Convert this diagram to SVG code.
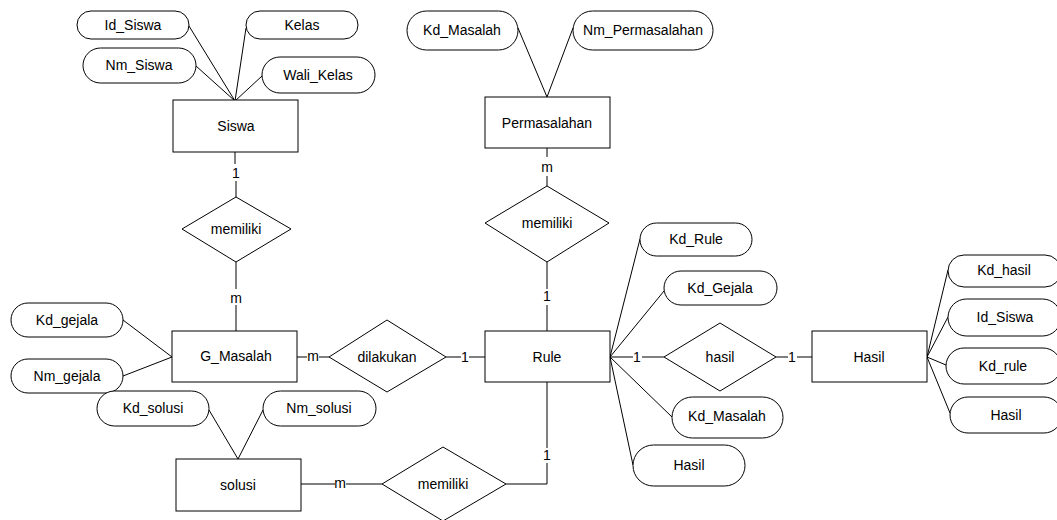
<svg xmlns="http://www.w3.org/2000/svg" width="1057" height="520" viewBox="0 0 1057 520">
<style>
rect,polygon{fill:#fff;stroke:#000;stroke-width:1}
.c line,.c polyline{stroke:#000;stroke-width:1;fill:none}
text{font-family:"Liberation Sans",Arial,sans-serif;font-size:14px;fill:#000;text-anchor:middle}
</style>
<rect x="0" y="0" width="1057" height="520" style="stroke:none"/>
<g class="c" id="connectors">
<line x1="189" y1="26" x2="235" y2="101"/>
<line x1="246" y1="28" x2="235" y2="101"/>
<line x1="196" y1="66" x2="235" y2="101"/>
<line x1="262" y1="76" x2="235" y2="101"/>
<line x1="235" y1="152" x2="235" y2="164"/>
<line x1="236" y1="181" x2="236" y2="197"/>
<line x1="236" y1="262" x2="236" y2="289"/>
<line x1="236" y1="305" x2="236" y2="331"/>
<line x1="123" y1="320" x2="172" y2="357"/>
<line x1="123" y1="376" x2="172" y2="357"/>
<line x1="209" y1="410" x2="238" y2="459"/>
<line x1="263" y1="410" x2="238" y2="459"/>
<line x1="518" y1="28" x2="547" y2="97"/>
<line x1="573" y1="28" x2="547" y2="97"/>
<line x1="547" y1="148" x2="547" y2="157"/>
<line x1="547" y1="176" x2="547" y2="186"/>
<line x1="547" y1="262" x2="547" y2="289"/>
<line x1="547" y1="305" x2="547" y2="331"/>
<line x1="297" y1="357" x2="307" y2="357"/>
<line x1="319" y1="357" x2="329" y2="357"/>
<line x1="446" y1="357" x2="461" y2="357"/>
<line x1="469" y1="357" x2="485" y2="357"/>
<line x1="301" y1="484" x2="335" y2="484"/>
<line x1="346" y1="484" x2="382" y2="484"/>
<line x1="547" y1="382" x2="547" y2="448"/>
<polyline points="547,463 547,484 506,484"/>
<line x1="610" y1="357" x2="633" y2="357"/>
<line x1="642" y1="357" x2="664" y2="357"/>
<line x1="776" y1="357" x2="788" y2="357"/>
<line x1="797" y1="357" x2="812" y2="357"/>
<line x1="610" y1="357" x2="640" y2="239"/>
<line x1="610" y1="357" x2="664" y2="291"/>
<line x1="610" y1="357" x2="672" y2="417"/>
<line x1="610" y1="357" x2="633" y2="465"/>
<line x1="927" y1="357" x2="948" y2="270"/>
<line x1="927" y1="357" x2="948" y2="317"/>
<line x1="927" y1="357" x2="946" y2="365"/>
<line x1="927" y1="357" x2="950" y2="413"/>
<text x="236" y="178">1</text>
<text x="236" y="303">m</text>
<text x="547" y="172">m</text>
<text x="547" y="301">1</text>
<text x="313" y="361">m</text>
<text x="465" y="362">1</text>
<text x="340" y="488">m</text>
<text x="547" y="460">1</text>
<text x="637" y="362">1</text>
<text x="792" y="362">1</text>
</g>
<g id="siswa"><rect x="173" y="100" width="125" height="52"/><text x="236" y="131">Siswa</text></g>
<g id="attr-id-siswa"><rect x="77" y="11" width="112" height="28" rx="14"/><text x="133" y="30">Id_Siswa</text></g>
<g id="attr-kelas"><rect x="246" y="11" width="112" height="28" rx="14"/><text x="302" y="30">Kelas</text></g>
<g id="attr-nm-siswa"><rect x="83" y="48" width="113" height="35" rx="17.5"/><text x="139" y="70">Nm_Siswa</text></g>
<g id="attr-wali-kelas"><rect x="262" y="57" width="113" height="36" rx="18"/><text x="318" y="80">Wali_Kelas</text></g>
<g id="rel-memiliki-1"><polygon points="236,197 291,229 236,262 182,229"/><text x="236" y="234">memiliki</text></g>
<g id="g-masalah"><rect x="172" y="331" width="125" height="51"/><text x="236" y="361">G_Masalah</text></g>
<g id="attr-kd-gejala"><rect x="11" y="303" width="112" height="34" rx="17"/><text x="67" y="325">Kd_gejala</text></g>
<g id="attr-nm-gejala"><rect x="11" y="359" width="112" height="34" rx="17"/><text x="67" y="381">Nm_gejala</text></g>
<g id="solusi"><rect x="176" y="459" width="125" height="52"/><text x="238" y="490">solusi</text></g>
<g id="attr-kd-solusi"><rect x="97" y="391" width="112" height="35" rx="17.5"/><text x="153" y="413">Kd_solusi</text></g>
<g id="attr-nm-solusi"><rect x="263" y="391" width="113" height="35" rx="17.5"/><text x="319" y="413">Nm_solusi</text></g>
<g id="rel-dilakukan"><polygon points="387,320 446,357 387,392 329,357"/><text x="387" y="362">dilakukan</text></g>
<g id="rel-memiliki-3"><polygon points="443,447 506,484 443,521 382,484"/><text x="443" y="489">memiliki</text></g>
<g id="permasalahan"><rect x="485" y="97" width="125" height="51"/><text x="547" y="128">Permasalahan</text></g>
<g id="attr-kd-masalah"><rect x="407" y="11" width="111" height="39" rx="19.5"/><text x="462" y="35">Kd_Masalah</text></g>
<g id="attr-nm-permasalahan"><rect x="573" y="11" width="140" height="39" rx="19.5"/><text x="643" y="35">Nm_Permasalahan</text></g>
<g id="rel-memiliki-2"><polygon points="547,186 609,223 547,262 485,223"/><text x="547" y="228">memiliki</text></g>
<g id="rule"><rect x="485" y="331" width="125" height="51"/><text x="547" y="362">Rule</text></g>
<g id="attr-kd-rule"><rect x="640" y="223" width="112" height="33" rx="16.5"/><text x="696" y="244">Kd_Rule</text></g>
<g id="attr-kd-gejala-r"><rect x="664" y="271" width="113" height="34" rx="17"/><text x="720" y="293">Kd_Gejala</text></g>
<g id="attr-kd-masalah-r"><rect x="672" y="397" width="111" height="41" rx="20.5"/><text x="727" y="421">Kd_Masalah</text></g>
<g id="attr-hasil-r"><rect x="633" y="445" width="112" height="41" rx="20.5"/><text x="689" y="470">Hasil</text></g>
<g id="rel-hasil"><polygon points="720,323 776,357 720,391 664,357"/><text x="720" y="362">hasil</text></g>
<g id="hasil"><rect x="812" y="331" width="115" height="51"/><text x="869" y="362">Hasil</text></g>
<g id="attr-kd-hasil"><rect x="948" y="255" width="113" height="32" rx="16"/><text x="1004" y="275">Kd_hasil</text></g>
<g id="attr-id-siswa-h"><rect x="948" y="299" width="113" height="37" rx="18.5"/><text x="1005" y="322">Id_Siswa</text></g>
<g id="attr-kd-rule-h"><rect x="946" y="348" width="115" height="36" rx="18"/><text x="1003" y="371">Kd_rule</text></g>
<g id="attr-hasil-h"><rect x="950" y="397" width="112" height="36" rx="18"/><text x="1006" y="420">Hasil</text></g>
</svg>
